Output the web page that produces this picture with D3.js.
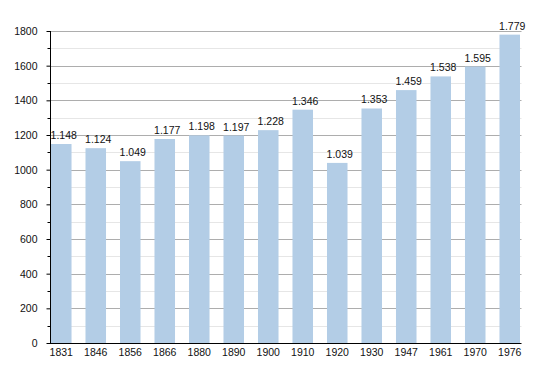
<!DOCTYPE html>
<html>
<head>
<meta charset="utf-8">
<script src="https://cdn.jsdelivr.net/npm/d3@7"></script>
<style>
  body { margin: 0; background: #fff; }
  text { font-family: "Liberation Sans", Arial, sans-serif; }
</style>
</head>
<body>
<div id="chart"></div>
<script>
// data
var years = ["1831", "1846", "1856", "1866", "1880", "1890", "1900", "1910", "1920", "1930", "1947", "1961", "1970", "1976"];
var population = [1148, 1124, 1049, 1177, 1198, 1197, 1228, 1346, 1039, 1353, 1459, 1538, 1595, 1779];
var yTicks = [0, 200, 400, 600, 800, 1000, 1200, 1400, 1600, 1800];
var yMinor = d3.range(100, 1800, 200);

var svgW = 550, svgH = 373;
var margin = {top: 31, right: 29, bottom: 30, left: 50};
var fontSize = "10.5px";

var svg = d3.select("#chart").append("svg").attr("width", svgW).attr("height", svgH);

var y = d3.scaleLinear().domain([0, 1800]).range([svgH - margin.bottom, margin.top]);
var x = d3.scaleBand().domain(years).range([51, 520]).paddingInner(0.405).paddingOuter(0);

var axisRight = svgW - margin.right + 0.5;

// minor grid
svg.append("g").selectAll("line").data(yMinor).enter().append("line")
    .attr("x1", margin.left).attr("x2", axisRight)
    .attr("y1", function(d){ return Math.round(y(d)) + 0.5; })
    .attr("y2", function(d){ return Math.round(y(d)) + 0.5; })
    .attr("stroke", "#e6e6e6");

// major grid
svg.append("g").selectAll("line").data(yTicks.slice(1)).enter().append("line")
    .attr("x1", margin.left).attr("x2", axisRight)
    .attr("y1", function(d){ return Math.round(y(d)) + 0.5; })
    .attr("y2", function(d){ return Math.round(y(d)) + 0.5; })
    .attr("stroke", "#adadad");

// bars
svg.append("g").selectAll("rect").data(population).enter().append("rect")
    .attr("x", function(d, i){ return x(years[i]); })
    .attr("y", function(d){ return y(d); })
    .attr("width", x.bandwidth())
    .attr("height", function(d){ return y(0) - y(d); })
    .attr("fill", "#b3cde6");

// value labels (dot as thousands separator, sitting a bit right of bar centre)
var fmt = function(v){ return d3.format(",")(v).replace(",", "."); };
svg.append("g").selectAll("text").data(population).enter().append("text")
    .attr("x", function(d, i){ return x(years[i]) + x.bandwidth() / 2 + 2.5; })
    .attr("y", function(d){ return y(d) - 5; })
    .attr("text-anchor", "middle")
    .style("font-size", fontSize)
    .attr("fill", "#111")
    .text(fmt);

// y axis
var yAxis = d3.axisLeft(y).tickValues(yTicks).tickFormat(d3.format("d")).tickSize(4).tickPadding(9);
var gy = svg.append("g").attr("transform", "translate(" + (margin.left + 0.5) + ",0)").call(yAxis);
gy.select(".domain").attr("stroke", "#000").attr("d", "M0," + y(1800) + "V" + (y(0) + 0.5));
gy.selectAll("text").style("font-size", fontSize).attr("fill", "#111")
  .style("font-family", "'Liberation Sans', Arial, sans-serif");
gy.selectAll(".tick line").attr("stroke", "#000");
gy.selectAll(".minor").data(yMinor).enter().append("line")
    .attr("class", "minor")
    .attr("x1", -3).attr("x2", 0)
    .attr("y1", function(d){ return Math.round(y(d)) + 0.5; })
    .attr("y2", function(d){ return Math.round(y(d)) + 0.5; })
    .attr("stroke", "#000");

// x axis
var xAxis = d3.axisBottom(x).tickSize(0).tickPadding(5);
var gx = svg.append("g").attr("transform", "translate(0," + (Math.round(y(0)) + 0.5) + ")").call(xAxis);
gx.select(".domain").attr("stroke", "#000").attr("d", "M" + margin.left + ",0H" + axisRight);
gx.selectAll("text").style("font-size", fontSize).attr("fill", "#111")
  .style("font-family", "'Liberation Sans', Arial, sans-serif");
</script>
</body>
</html>
